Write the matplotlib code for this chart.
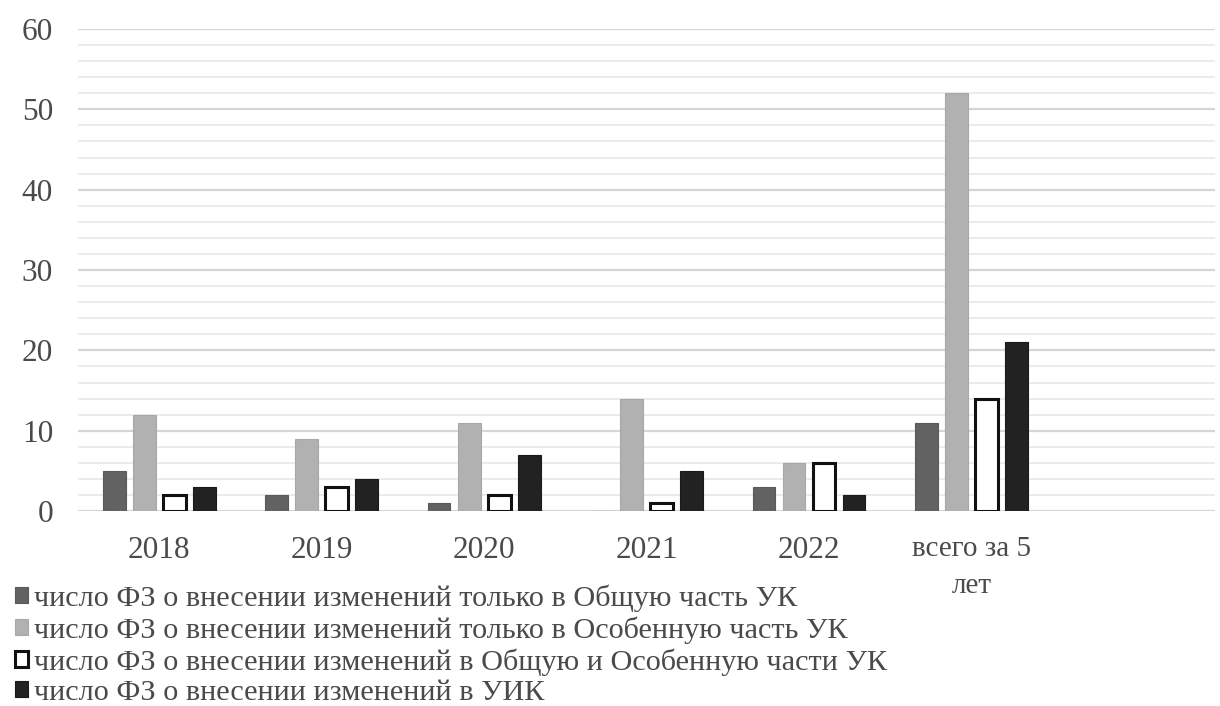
import numpy as np
import matplotlib.pyplot as plt
from matplotlib.ticker import MultipleLocator

plt.rcParams['font.family'] = ['Liberation Serif', 'DejaVu Serif']

# categories (last slot left empty, as in the source chart)
categories = ['2018', '2019', '2020', '2021', '2022', 'всего за 5\nлет', '']
general_only = [5, 2, 1, 0, 3, 11]
special_only = [12, 9, 11, 14, 6, 52]
general_and_special = [2, 3, 2, 1, 6, 14]
uik_changes = [3, 4, 7, 5, 2, 21]

series_labels = [
    'число ФЗ о внесении изменений только в Общую часть УК',
    'число ФЗ о внесении изменений только в Особенную часть УК',
    'число ФЗ о внесении изменений в Общую и Особенную части УК',
    'число ФЗ о внесении изменений в УИК',
]

fig = plt.figure(figsize=(12.2, 7.06), dpi=100)
ax = fig.add_axes([0.064, 0.276, 0.932, 0.683])

x = np.arange(len(general_only))
step = 0.185
width = 0.14
styles = [
    dict(color='#626262', edgecolor='#5a5a5a', linewidth=0.8),
    dict(color='#b1b1b1', edgecolor='#a8a8a8', linewidth=0.8),
    dict(color='white', edgecolor='#111111', linewidth=2.2),
    dict(color='#222222', edgecolor='#1a1a1a', linewidth=0.8),
]
data = [general_only, special_only, general_and_special, uik_changes]
for i, (vals, st, lab) in enumerate(zip(data, styles, series_labels)):
    ax.bar(x + (i - 1.5) * step, vals, width, label=lab, zorder=3, **st)

ax.set_xlim(-0.5, len(categories) - 0.5)
ax.set_ylim(0, 60)
ax.set_xticks(np.arange(len(categories)))
ax.set_xticklabels(categories)
ax.yaxis.set_major_locator(MultipleLocator(10))
ax.yaxis.set_minor_locator(MultipleLocator(2))
ax.grid(axis='y', which='major', color='#d6d6d6', linewidth=1.6, zorder=0)
ax.grid(axis='y', which='minor', color='#e8e8e8', linewidth=1.2, zorder=0)
for s in ax.spines.values():
    s.set_visible(False)
ax.tick_params(axis='both', which='both', length=0, labelsize=22.5, colors='#4a4a4a')
ax.tick_params(axis='y', pad=18)
ax.tick_params(axis='x', pad=18)
for lbl in ax.get_xticklabels():
    lbl.set_verticalalignment('top')
    lbl.set_linespacing(1.55)
ax.get_xticklabels()[5].set_fontsize(21)

leg = fig.legend(loc='upper left', bbox_to_anchor=(0.012, 1 - 584 / 706),
                 frameon=False, fontsize=21.8, handlelength=0.44,
                 handleheight=0.44, handletextpad=0.2, labelspacing=0.15,
                 borderpad=0, borderaxespad=0)
for t in leg.get_texts():
    t.set_color('#4a4a4a')

fig.savefig('out.png', dpi=100)
